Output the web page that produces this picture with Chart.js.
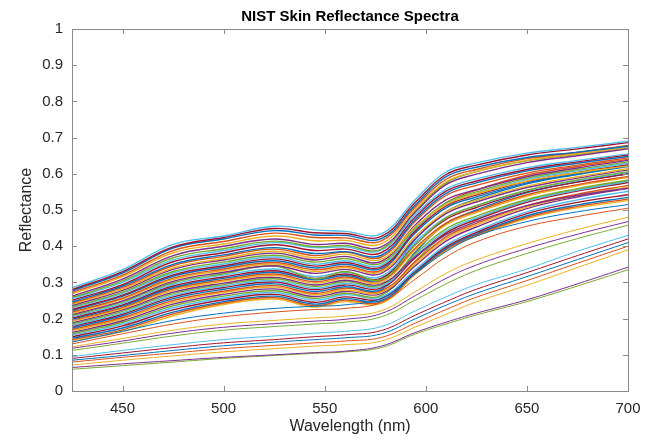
<!DOCTYPE html>
<html>
<head>
<meta charset="utf-8">
<script src="https://cdn.jsdelivr.net/npm/chart.js@4.4.0/dist/chart.umd.min.js"></script>
<style>
  html, body { margin: 0; padding: 0; background: #fff; }
  #chart-container { width: 652px; height: 436px; }
</style>
</head>
<body>
<div id="chart-container"><canvas id="spectra-chart" width="652" height="436"></canvas></div>
<script>
const chartTitle = 'NIST Skin Reflectance Spectra';
const xTitle = 'Wavelength (nm)';
const yTitle = 'Reflectance';

// sample wavelengths (nm)
const wavelengths = [425, 450, 475, 500, 525, 545, 560, 578, 595, 610, 625, 650, 675, 700];

// light / medium skin: the dense band
const lightSpectra = [
    [.285, .335, .405, .428, .455, .445, .441, .434, .530, .605, .630, .657, .673, .690],
    [.280, .330, .398, .424, .449, .437, .435, .427, .522, .598, .624, .652, .669, .686],
    [.277, .326, .395, .420, .443, .431, .430, .421, .515, .592, .618, .645, .660, .676],
    [.272, .320, .388, .413, .436, .424, .423, .415, .510, .585, .612, .642, .659, .678],
    [.268, .316, .382, .406, .428, .415, .416, .407, .503, .578, .606, .637, .655, .673],
    [.262, .309, .374, .400, .420, .405, .408, .398, .495, .570, .599, .631, .650, .669],
    [.258, .304, .368, .393, .414, .399, .402, .392, .498, .575, .606, .636, .654, .671],
    [.255, .300, .362, .388, .410, .396, .398, .389, .488, .558, .586, .617, .637, .655],
    [.250, .294, .357, .382, .404, .388, .392, .382, .482, .552, .580, .612, .633, .652],
    [.246, .290, .350, .376, .396, .380, .385, .375, .475, .546, .575, .608, .629, .648],
    [.243, .286, .346, .372, .392, .374, .384, .370, .470, .540, .568, .602, .624, .644],
    [.240, .282, .340, .366, .386, .368, .378, .364, .455, .515, .545, .580, .603, .622],
    [.236, .278, .336, .362, .381, .362, .372, .358, .460, .528, .556, .592, .616, .637],
    [.232, .273, .330, .356, .375, .356, .366, .353, .452, .520, .550, .588, .612, .633],
    [.229, .270, .326, .351, .370, .350, .360, .348, .449, .517, .546, .584, .608, .629],
    [.225, .265, .321, .346, .365, .345, .355, .343, .443, .511, .541, .579, .604, .625],
    [.222, .262, .317, .342, .360, .340, .350, .339, .438, .506, .536, .575, .600, .622],
    [.218, .257, .312, .337, .355, .335, .345, .334, .445, .520, .555, .596, .620, .640],
    [.215, .254, .308, .333, .351, .330, .341, .330, .428, .495, .527, .566, .592, .614],
    [.211, .249, .303, .328, .346, .325, .336, .325, .422, .490, .522, .562, .588, .611],
    [.208, .246, .299, .324, .345, .310, .330, .308, .405, .478, .512, .555, .583, .606],
    [.205, .242, .295, .320, .337, .316, .328, .317, .412, .480, .512, .554, .581, .604],
    [.201, .238, .290, .315, .332, .311, .323, .312, .406, .474, .507, .550, .577, .600],
    [.198, .235, .286, .311, .328, .307, .319, .309, .420, .495, .530, .572, .598, .620],
    [.195, .231, .282, .307, .323, .302, .315, .305, .396, .464, .497, .542, .570, .593],
    [.192, .228, .278, .303, .319, .298, .311, .301, .391, .459, .493, .538, .567, .590],
    [.188, .224, .273, .298, .314, .293, .306, .296, .372, .432, .468, .512, .540, .560],
    [.185, .220, .269, .294, .310, .289, .302, .293, .380, .448, .483, .529, .559, .583],
    [.181, .216, .264, .290, .305, .284, .297, .289, .374, .442, .478, .525, .555, .579],
    [.178, .212, .260, .286, .301, .280, .293, .285, .369, .437, .473, .521, .552, .576],
    [.174, .208, .255, .281, .296, .275, .288, .281, .385, .462, .500, .548, .578, .600],
    [.170, .203, .250, .276, .291, .270, .284, .277, .358, .426, .463, .512, .544, .568],
    [.166, .199, .245, .272, .287, .266, .279, .273, .352, .420, .458, .508, .540, .564],
    [.162, .194, .240, .267, .282, .261, .275, .269, .347, .414, .453, .504, .536, .560],
    [.158, .190, .235, .262, .277, .256, .270, .264, .360, .435, .475, .525, .556, .580],
    [.154, .185, .230, .257, .272, .251, .266, .260, .336, .403, .443, .495, .528, .552],
    [.150, .180, .224, .252, .267, .245, .260, .255, .332, .398, .438, .490, .521, .542],
    [.146, .174, .218, .247, .262, .240, .255, .250, .328, .394, .434, .484, .514, .535],
    [.142, .169, .213, .243, .258, .236, .251, .246, .326, .391, .431, .480, .510, .530],
    [.138, .164, .208, .239, .254, .232, .247, .242, .323, .388, .428, .476, .506, .526]
];

// dark skin: the sparse lines underneath
const darkSpectra = [
    [.135, .165, .195, .215, .228, .234, .238, .256, .325, .385, .428, .468, .495, .515],
    [.130, .158, .185, .205, .218, .225, .228, .245, .310, .370, .412, .455, .482, .505],
    [.122, .145, .168, .185, .195, .202, .207, .222, .275, .325, .362, .407, .446, .480],
    [.118, .138, .160, .176, .186, .193, .198, .214, .264, .311, .348, .394, .433, .468],
    [.112, .132, .152, .168, .178, .185, .190, .205, .252, .296, .333, .380, .421, .458],
    [.095, .112, .128, .142, .152, .160, .165, .178, .222, .260, .294, .337, .386, .430],
    [.090, .105, .120, .133, .142, .150, .155, .167, .210, .247, .281, .327, .374, .420],
    [.085, .098, .112, .125, .135, .142, .147, .158, .200, .237, .270, .316, .363, .410],
    [.080, .093, .105, .117, .126, .133, .138, .148, .188, .225, .259, .305, .353, .400],
    [.072, .085, .097, .108, .117, .124, .128, .138, .177, .212, .246, .292, .341, .390],
    [.065, .075, .084, .093, .100, .106, .110, .124, .162, .190, .215, .252, .296, .342],
    [.060, .070, .080, .090, .098, .104, .108, .120, .158, .185, .210, .247, .290, .335]
];

const xTicks = [450, 500, 550, 600, 650, 700];
const yTicks = [0, 0.1, 0.2, 0.3, 0.4, 0.5, 0.6, 0.7, 0.8, 0.9, 1];
const yTickLabels = ['0', '0.1', '0.2', '0.3', '0.4', '0.5', '0.6', '0.7', '0.8', '0.9', '1'];

const lineColors = ['#0072BD', '#D95319', '#EDB120', '#7E2F8E', '#77AC30', '#4DBEEE', '#A2142F'];

const fontFamily = '"Liberation Sans", Arial, sans-serif';
const axisColor = '#262626';

const allSpectra = darkSpectra.concat(lightSpectra);

// frame + inward ticks + title, matlab style
const matlabBox = {
    id: 'matlabBox',
    afterDraw(chart) {
        const { ctx, chartArea: a, scales: { x, y } } = chart;
        ctx.save();
        ctx.strokeStyle = '#8a8a8a';
        ctx.lineWidth = 1;
        ctx.strokeRect(Math.round(a.left) + 0.5, Math.round(a.top) + 0.5,
            Math.round(a.right - a.left), Math.round(a.bottom - a.top));
        ctx.beginPath();
        xTicks.forEach(v => {
            const px = Math.round(x.getPixelForValue(v)) + 0.5;
            ctx.moveTo(px, a.bottom); ctx.lineTo(px, a.bottom - 5);
            ctx.moveTo(px, a.top); ctx.lineTo(px, a.top + 5);
        });
        yTicks.forEach(v => {
            const py = Math.round(y.getPixelForValue(v)) + 0.5;
            ctx.moveTo(a.left, py); ctx.lineTo(a.left + 5, py);
            ctx.moveTo(a.right, py); ctx.lineTo(a.right - 5, py);
        });
        ctx.stroke();

        ctx.fillStyle = '#000';
        ctx.font = 'bold 15px ' + fontFamily;
        ctx.textAlign = 'center';
        ctx.textBaseline = 'middle';
        ctx.fillText(chartTitle, (a.left + a.right) / 2, 17);
        ctx.restore();
    }
};

const ctx = document.getElementById('spectra-chart').getContext('2d');

window.chartInstance = new Chart(ctx, {
    type: 'line',
    data: {
        datasets: allSpectra.map((s, i) => ({
            data: wavelengths.map((w, j) => ({ x: w, y: s[j] })),
            borderColor: lineColors[i % lineColors.length],
            borderWidth: i < darkSpectra.length ? 1 : 1.4,
            pointRadius: 0,
            fill: false,
            tension: 0.4,
        }))
    },
    options: {
        responsive: false,
        animation: false,
        layout: {
            padding: { top: 29, right: 24, bottom: 0, left: 0 }
        },
        plugins: {
            legend: { display: false },
            tooltip: { enabled: false },
            title: { display: false },
        },
        scales: {
            x: {
                type: 'linear',
                min: 425,
                max: 700,
                grid: { display: false, drawTicks: false },
                border: { display: false },
                afterBuildTicks: (scale) => {
                    scale.ticks = xTicks.map(v => ({ value: v }));
                },
                afterFit: (scale) => { scale.height = 45; },
                ticks: {
                    color: axisColor,
                    padding: 9,
                    maxRotation: 0,
                    font: { size: 15, family: fontFamily },
                },
                title: {
                    display: true,
                    text: xTitle,
                    color: axisColor,
                    padding: { top: 0, bottom: 0 },
                    font: { size: 16, family: fontFamily },
                }
            },
            y: {
                min: 0,
                max: 1,
                grid: { display: false, drawTicks: false },
                border: { display: false },
                afterBuildTicks: (scale) => {
                    scale.ticks = yTicks.map(v => ({ value: v }));
                },
                afterFit: (scale) => { scale.width = 72; },
                ticks: {
                    color: axisColor,
                    padding: 9,
                    font: { size: 15, family: fontFamily },
                    callback: (value) => yTickLabels[yTicks.indexOf(value)],
                },
                title: {
                    display: true,
                    text: yTitle,
                    color: axisColor,
                    padding: { top: 17, bottom: 0 },
                    font: { size: 16, family: fontFamily },
                }
            }
        }
    },
    plugins: [matlabBox]
});
</script>
</body>
</html>
